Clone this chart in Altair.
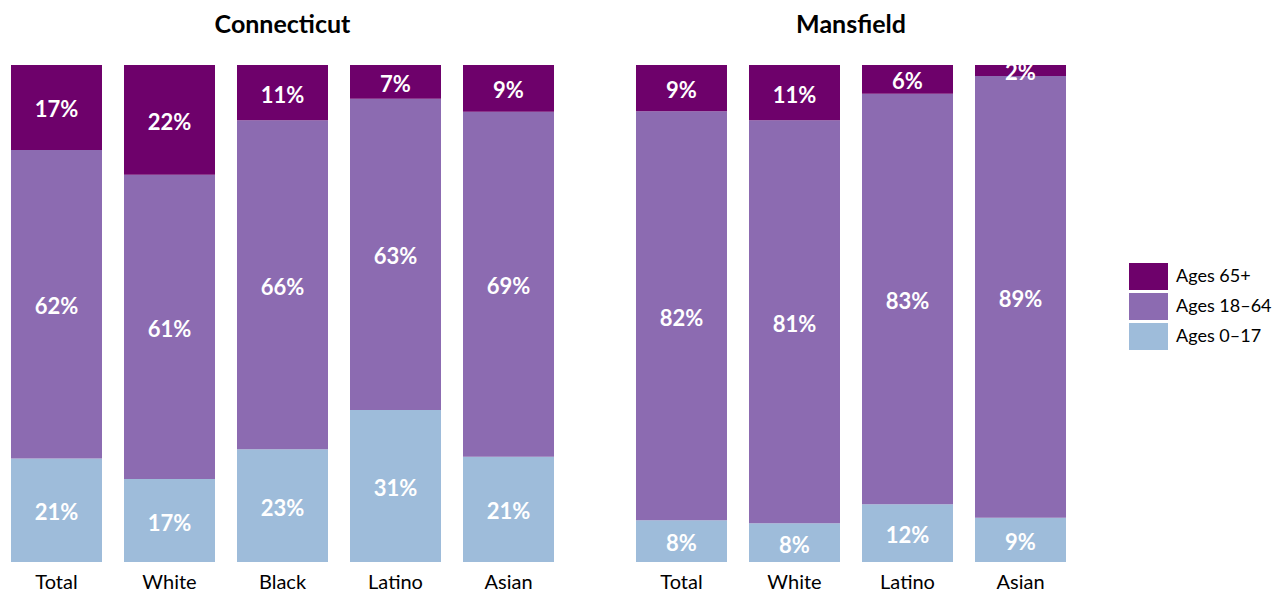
import altair as alt
import pandas as pd

FONT = "Lato"

age_labels = ["Ages 65+", "Ages 18–64", "Ages 0–17"]
age_colors = ["#6e016b", "#8c6bb1", "#9ebcda"]

ct_groups = ["Total", "White", "Black", "Latino", "Asian"]
ct_0_17 = [20.8, 16.7, 22.7, 30.6, 21.2]
ct_18_64 = [62.1, 61.2, 66.2, 62.6, 69.4]
ct_65 = [17.1, 22.1, 11.1, 6.8, 9.4]

mf_groups = ["Total", "White", "Latino", "Asian"]
mf_0_17 = [8.4, 7.8, 11.6, 8.9]
mf_18_64 = [82.3, 81.1, 82.6, 88.9]
mf_65 = [9.3, 11.1, 5.8, 2.2]


def make_df(groups, a, b, c):
    rows = []
    for i, g in enumerate(groups):
        rows.append({"group": g, "age": "Ages 0–17", "order": 0, "value": a[i]})
        rows.append({"group": g, "age": "Ages 18–64", "order": 1, "value": b[i]})
        rows.append({"group": g, "age": "Ages 65+", "order": 2, "value": c[i]})
    return pd.DataFrame(rows)


def panel(df, title, groups, width):
    base = alt.Chart(df).transform_stack(
        stack="value", groupby=["group"], as_=["y0", "y1"],
        sort=[alt.SortField("order", order="ascending")]
    ).transform_calculate(
        mid="(datum.y0 + datum.y1) / 2",
        label="format(datum.value, '.0f') + '%'"
    )
    xscale = alt.Scale(paddingInner=0.1947, paddingOuter=0.0265)
    x = alt.X("group:N", sort=groups, title=None, scale=xscale,
              axis=alt.Axis(labelAngle=0, domain=False, ticks=False,
                            labelFontSize=20, labelColor="black",
                            labelPadding=10, labelFont=FONT, grid=False))
    yscale = alt.Scale(domain=[0, 100], nice=False, zero=True)
    bars = base.mark_bar().encode(
        x=x,
        y=alt.Y("y0:Q", scale=yscale, axis=None),
        y2="y1:Q",
        color=alt.Color("age:N",
                        scale=alt.Scale(domain=age_labels, range=age_colors),
                        legend=alt.Legend(title=None, orient="none",
                                          legendX=1121, legendY=198)),
    )
    text = base.mark_text(color="white", fontSize=22, fontWeight="bold",
                          font=FONT, baseline="middle", dy=3, clip=True).encode(
        x=alt.X("group:N", sort=groups, scale=xscale),
        y=alt.Y("mid:Q", scale=yscale, axis=None),
        text="label:N",
    )
    return alt.layer(bars, text).properties(
        width=width, height=497,
        title=alt.TitleParams(title, fontSize=25, fontWeight="bold", font=FONT,
                              anchor="middle", offset=27, color="black",
                              frame="group"),
    )


ct = panel(make_df(ct_groups, ct_0_17, ct_18_64, ct_65), "Connecticut", ct_groups, 549)
mf = panel(make_df(mf_groups, mf_0_17, mf_18_64, mf_65), "Mansfield", mf_groups, 436)

chart = alt.hconcat(ct, mf, spacing=76).properties(
    padding={"top": 4, "left": 0, "right": 0, "bottom": 0}
).configure_view(
    stroke=None
).configure_legend(
    symbolType="M-1,-0.69L1,-0.69L1,0.69L-1,0.69Z",
    symbolSize=1521,
    symbolStrokeWidth=0,
    symbolOpacity=1,
    labelFontSize=18,
    labelFont=FONT,
    labelColor="black",
    clipHeight=27,
    rowPadding=3,
    labelOffset=8,
)

chart.save("out.html", embed_options={"renderer": "svg", "actions": False})
